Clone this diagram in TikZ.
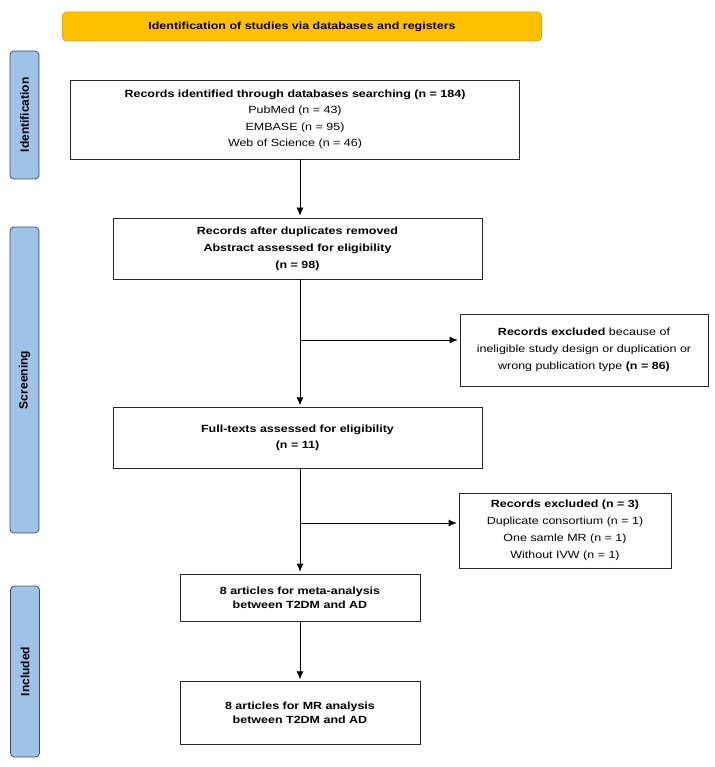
\documentclass[tikz,border=0pt]{standalone}
\usepackage{fontspec}
\setmainfont[FakeStretch=1.2]{Liberation Sans}
\newfontfamily\sidefont{Liberation Sans}
\usepackage{tikz}
\usetikzlibrary{positioning,arrows.meta}
\definecolor{bannerfill}{RGB}{255,192,0}
\definecolor{bannerline}{RGB}{222,166,20}
\definecolor{sidefill}{RGB}{160,194,232}
\definecolor{sideline}{RGB}{60,78,100}

\begin{document}
\begin{tikzpicture}[x=1pt, y=-1pt, font=\fontsize{10.4}{16.5}\selectfont,
        box/.style={draw=black!85, line width=0.7pt, align=center, inner sep=2pt},
        side/.style={draw=sideline, fill=sidefill, rounded corners=4pt, rotate=90, line width=0.8pt,
            minimum height=29pt, inner sep=0pt, font=\sidefont\fontsize{12}{14}\selectfont\bfseries},
        arr/.style={-{Latex[length=8pt,width=7pt]}, line width=0.7pt, shorten >=2pt}]
    \useasboundingbox (0,0) rectangle (714,767);

    \node[draw=bannerline, fill=bannerfill, rounded corners=4pt, line width=0.7pt, minimum width=479pt,
        minimum height=29pt, font=\fontsize{10.4}{14}\selectfont\bfseries] (title) at (302,26.5)
        {Identification of studies via databases and registers};

    \node[side, minimum width=128pt] (sid) at (24.5,115) {Identification};
    \node[side, minimum width=306pt] (scr) at (24.5,380) {Screening};
    \node[side, minimum width=171pt] (inc) at (25,671.5) {Included};

    \node[box, minimum width=449pt, minimum height=79pt] (rec) at (295,119.5)
        {\textbf{Records identified through databases searching (n = 184)}\\PubMed (n = 43)\\EMBASE (n = 95)\\Web of Science (n = 46)};
    \node[box, minimum width=369pt, minimum height=61pt, font=\fontsize{10.4}{17}\selectfont\bfseries] (dup) at (297.5,248.5)
        {Records after duplicates removed\\Abstract assessed for eligibility\\(n = 98)};
    \node[box, minimum width=369pt, minimum height=61pt, font=\fontsize{10.4}{16}\selectfont\bfseries] (full) [below=128pt of dup]
        {Full-texts assessed for eligibility\\(n = 11)};
    \node[box, minimum width=240pt, minimum height=47pt, font=\fontsize{10.4}{14.3}\selectfont\bfseries] (meta) at (300,597.5)
        {8 articles for meta-analysis\\between T2DM and AD};
    \node[box, minimum width=240pt, minimum height=63pt, font=\fontsize{10.4}{14}\selectfont\bfseries] (mr) [below=60pt of meta]
        {8 articles for MR analysis\\between T2DM and AD};

    \node[box, minimum width=248pt, minimum height=72pt, font=\fontsize{10.4}{17}\selectfont] (exa) at (584,350)
        {\textbf{Records excluded} because of\\ineligible study design or duplication or\\wrong publication type \textbf{(n = 86)}};
    \node[box, minimum width=212pt, minimum height=75pt, font=\fontsize{10.4}{17}\selectfont] (exb) at (565,530.5)
        {\textbf{Records excluded (n = 3)}\\Duplicate consortium (n = 1)\\One samle MR (n = 1)\\Without IVW (n = 1)};

    \coordinate (axis) at (300,0);
    \coordinate (fa) at (300,340);
    \coordinate (fb) at (300,523);

    \draw[arr] (axis |- rec.south) -- (axis |- dup.north);
    \draw[arr] (axis |- dup.south) -- (axis |- full.north);
    \draw[arr] (axis |- full.south) -- (meta);
    \draw[arr] (meta) -- (mr);
    \draw[arr] (fa) -- (fa -| exa.west);
    \draw[arr] (fb) -- (fb -| exb.west);
\end{tikzpicture}
\end{document}
